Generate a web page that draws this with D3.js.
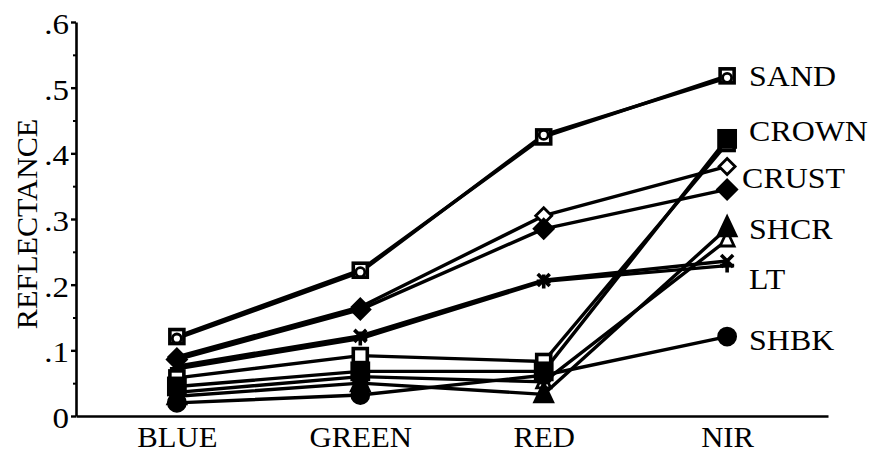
<!DOCTYPE html>
<html><head><meta charset="utf-8">
<script src="https://cdn.jsdelivr.net/npm/d3@7"></script>
<style>
html,body{margin:0;padding:0;background:#fff;}
svg{display:block;}
text{font-family:"Liberation Serif","Times New Roman",serif;fill:#000;}
</style></head>
<body>
<svg id="c" width="874" height="458"></svg>
<script>
// ---- data ----
const bands = ["BLUE", "GREEN", "RED", "NIR"];
const sand1  = [0.121, 0.222, 0.425, 0.518];
const sand2  = [0.118, 0.219, 0.428, 0.515];
const crust1 = [0.090, 0.166, 0.305, 0.380];
const crust2 = [0.086, 0.162, 0.285, 0.345];
const lt1    = [0.076, 0.122, 0.207, 0.236];
const lt2    = [0.072, 0.118, 0.205, 0.229];
const crown2 = [0.058, 0.092, 0.083, 0.415];
const crown1 = [0.045, 0.068, 0.068, 0.422];
const shcr2  = [0.036, 0.060, 0.052, 0.268];
const shcr1  = [0.030, 0.050, 0.033, 0.286];
const shbk1  = [0.020, 0.032, 0.062, 0.121];
const seriesNames  = ["SAND", "SAND", "CRUST", "CRUST", "LT", "LT", "CROWN", "CROWN", "SHCR", "SHCR", "SHBK"];
const seriesValues = [sand1, sand2, crust1, crust2, lt1, lt2, crown2, crown1, shcr2, shcr1, shbk1];
const seriesMarks  = ["osquare", "ocircle", "odiamond", "diamond", "times", "plus", "osquare", "square", "otriangle", "triangle", "circle"];
const labelNames  = ["SAND", "CROWN", "CRUST", "SHCR", "LT", "SHBK"];
const labelValues = [0.519, 0.435, 0.363, 0.285, 0.209, 0.116];
const yTicks      = [0, 0.1, 0.2, 0.3, 0.4, 0.5, 0.6];
const yTickLabels = ["0", ".1", ".2", ".3", ".4", ".5", ".6"];
const yMinor      = [0.05, 0.15, 0.25, 0.35, 0.45, 0.55];

// ---- chart ----
const svg = d3.select("#c");
const x = d3.scalePoint().domain(bands).range([76, 828]).padding(0.55);
const y = d3.scaleLinear().domain([0, 0.6]).range([416, 22]);

function stretch(sel, f) {
  sel.each(function () {
    const L = this.getComputedTextLength();
    d3.select(this).attr("textLength", L * f).attr("lengthAdjust", "spacingAndGlyphs");
  });
}

// y axis
const ya = svg.append("g").attr("transform", "translate(76,0)")
  .call(d3.axisLeft(y).tickValues(yTicks).tickSize(5).tickSizeOuter(0)
        .tickFormat((d, i) => yTickLabels[i]));
ya.select(".domain").attr("stroke", "#000").attr("stroke-width", 2.6);
ya.selectAll(".tick line").attr("stroke", "#000").attr("stroke-width", 2.4);
ya.selectAll(".tick text").attr("font-size", 30).attr("x", -7).attr("dy", "0.38em")
  .attr("font-family", "Liberation Serif");
stretch(ya.selectAll(".tick text"), 1.1);
const ym = svg.append("g").attr("transform", "translate(76,0)")
  .call(d3.axisLeft(y).tickValues(yMinor).tickSize(3).tickFormat(""));
ym.select(".domain").remove();
ym.selectAll(".tick line").attr("stroke", "#000").attr("stroke-width", 2);

// x axis
const xa = svg.append("g").attr("transform", "translate(0,416)")
  .call(d3.axisBottom(x).tickSize(0).tickSizeOuter(0));
xa.select(".domain").attr("stroke", "#000").attr("stroke-width", 2.6);
xa.selectAll(".tick text").attr("font-size", 29).attr("y", 10).attr("dy", "0.71em")
  .attr("font-family", "Liberation Serif");
stretch(xa.selectAll(".tick text"), 1.06);

// y title
svg.append("text").attr("transform", "translate(37,224) rotate(-90)")
  .attr("text-anchor", "middle").attr("font-size", 29).text("REFLECTANCE")
  .call(stretch, 1.04);

// lines
const line = d3.line().x((d, i) => x(bands[i])).y(d => y(d));
const g = svg.append("g");
seriesValues.forEach(vals => {
  g.append("path").attr("d", line(vals)).attr("fill", "none")
    .attr("stroke", "#000").attr("stroke-width", 3.4)
    .attr("stroke-linejoin", "round");
});

// markers
function drawMark(sel, kind) {
  const sw = 2.8;
  if (kind === "square" || kind === "osquare") {
    const s = kind === "square" ? 17 : 14;
    sel.append("rect").attr("x", -s / 2).attr("y", -s / 2).attr("width", s).attr("height", s)
      .attr("fill", kind === "square" ? "#000" : "#fff").attr("stroke", "#000").attr("stroke-width", kind === "square" ? sw : 3.6);
  } else if (kind === "ocircle" || kind === "circle") {
    sel.append("circle").attr("r", kind === "circle" ? 8.5 : 4.5)
      .attr("fill", kind === "circle" ? "#000" : "#fff").attr("stroke", "#000").attr("stroke-width", sw);
  } else if (kind === "diamond" || kind === "odiamond") {
    const r = kind === "diamond" ? 9.5 : 8;
    sel.append("path").attr("d", `M0,${-r}L${r},0L0,${r}L${-r},0Z`)
      .attr("fill", kind === "diamond" ? "#000" : "#fff").attr("stroke", "#000").attr("stroke-width", sw);
  } else if (kind === "triangle" || kind === "otriangle") {
    const h = kind === "triangle" ? 19 : 15, w = kind === "triangle" ? 18 : 14;
    sel.append("path").attr("d", `M0,${-h * 0.6}L${w / 2},${h * 0.4}L${-w / 2},${h * 0.4}Z`)
      .attr("fill", kind === "triangle" ? "#000" : "#fff").attr("stroke", "#000").attr("stroke-width", sw);
  } else if (kind === "times") {
    sel.append("path").attr("d", "M-6,-6L6,6M6,-6L-6,6").attr("stroke", "#000").attr("stroke-width", 3.6);
  } else if (kind === "plus") {
    sel.append("path").attr("d", "M-7,0L7,0M0,-7L0,7").attr("stroke", "#000").attr("stroke-width", 3.6);
  }
}
seriesValues.forEach((vals, si) => {
  vals.forEach((v, i) => {
    const m = g.append("g").attr("transform", `translate(${x(bands[i])},${y(v)})`);
    drawMark(m, seriesMarks[si]);
  });
});

// right-hand labels
svg.append("g").selectAll("text").data(labelNames).join("text")
  .attr("x", (d, i) => x("NIR") + (i === 2 ? 15 : 22))
  .attr("y", (d, i) => y(labelValues[i]))
  .attr("dy", "0.36em").attr("font-size", 29).text(d => d)
  .call(stretch, 1.1);
</script>
</body></html>
